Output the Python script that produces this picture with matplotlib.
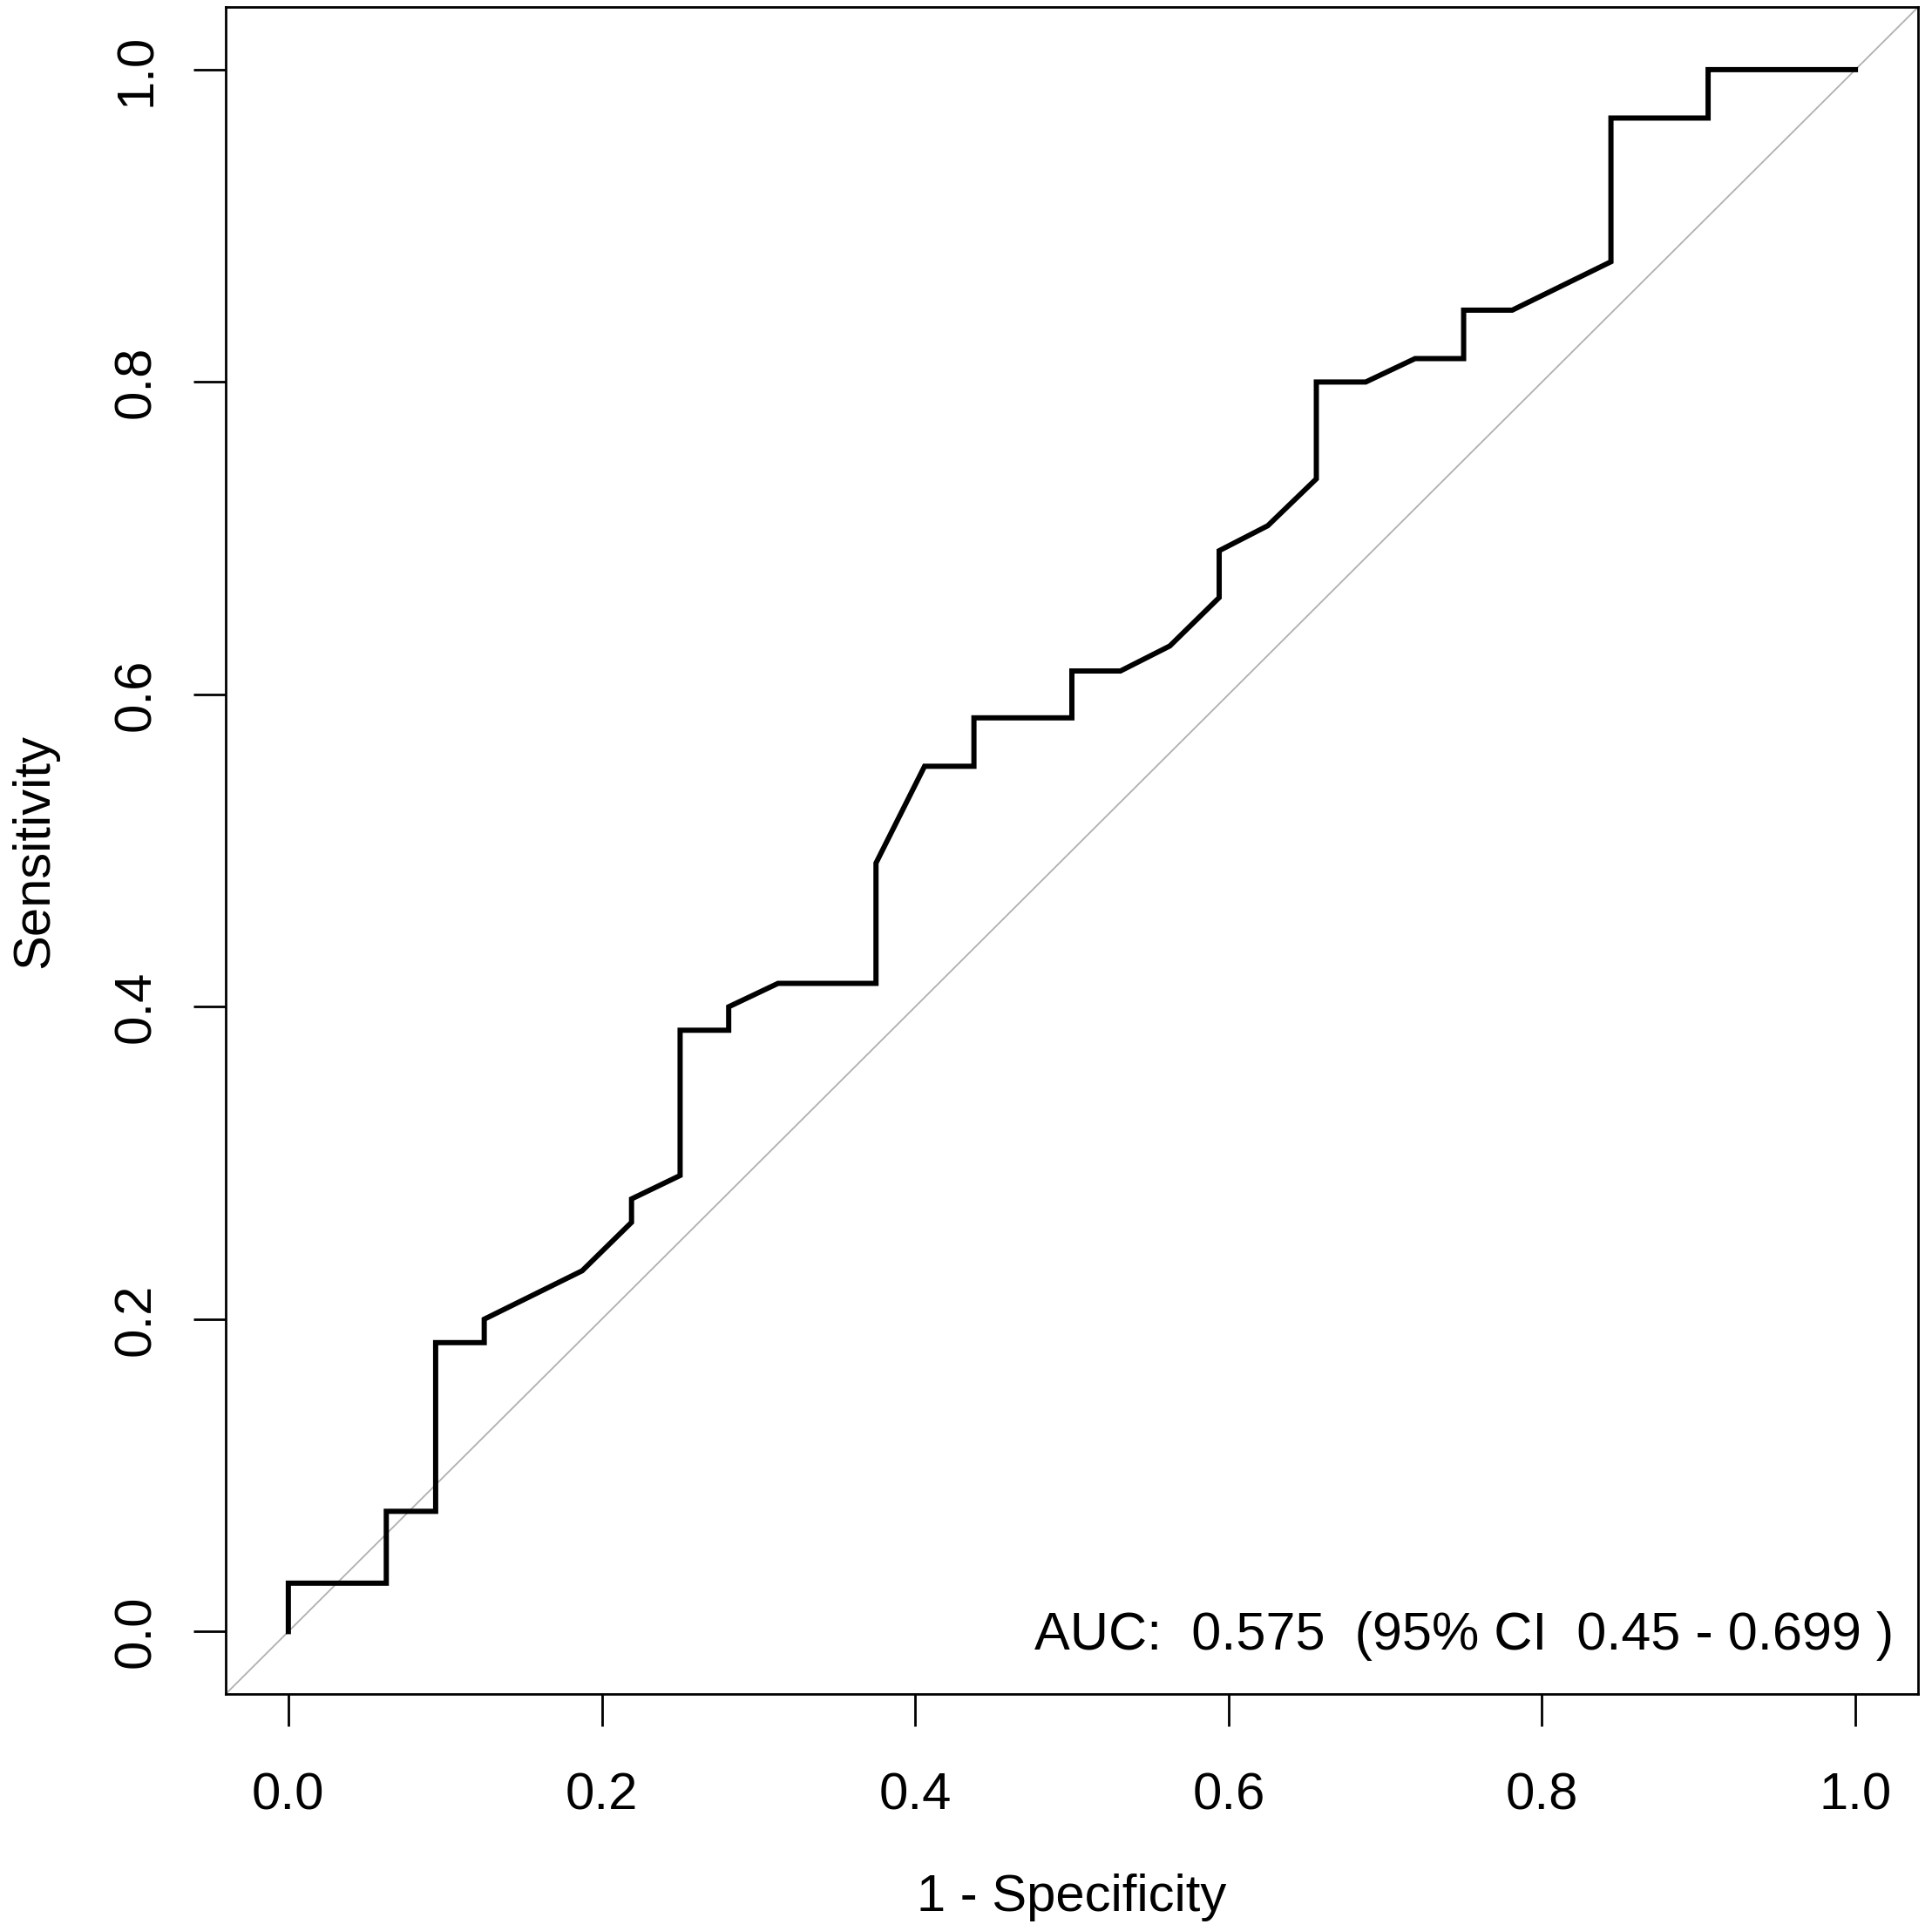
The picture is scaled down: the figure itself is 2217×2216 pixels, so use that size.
import matplotlib.pyplot as plt

plt.rcParams['font.family'] = ['Liberation Sans', 'DejaVu Sans']

# ROC curve points (1 - specificity, sensitivity)
fpr = [0.0, 0.0, 0.0625, 0.0625, 0.094, 0.094, 0.125, 0.125, 0.1875, 0.219,
       0.219, 0.25, 0.25, 0.281, 0.281, 0.3125, 0.375, 0.375, 0.406, 0.4375,
       0.4375, 0.5, 0.5, 0.531, 0.5625, 0.594, 0.594, 0.625, 0.656, 0.656,
       0.6875, 0.719, 0.75, 0.75, 0.781, 0.844, 0.844, 0.906, 0.906, 1.0]
tpr = [0.0, 0.031, 0.031, 0.077, 0.077, 0.185, 0.185, 0.2, 0.231, 0.262,
       0.277, 0.292, 0.385, 0.385, 0.4, 0.415, 0.415, 0.492, 0.554, 0.554,
       0.585, 0.585, 0.615, 0.615, 0.631, 0.662, 0.692, 0.708, 0.738, 0.8,
       0.8, 0.815, 0.815, 0.846, 0.846, 0.877, 0.969, 0.969, 1.0, 1.0]

ticks = [0.0, 0.2, 0.4, 0.6, 0.8, 1.0]
auc_label = 'AUC:  0.575  (95% CI  0.45 - 0.699 )'

fig = plt.figure(figsize=(22.17, 22.16), dpi=100)
ax = fig.add_axes([0.1168, 0.1227, 0.876, 0.8736])

# chance line across the whole box
ax.plot([-0.04, 1.04], [-0.04, 1.04], color='#b0b0b0', lw=1.3)
ax.plot(fpr, tpr, color='black', lw=4.3, solid_joinstyle='miter')

ax.set_xlim(-0.04, 1.04)
ax.set_ylim(-0.04, 1.04)
ax.set_xticks(ticks)
ax.set_yticks(ticks)
ax.set_xticklabels(['%.1f' % t for t in ticks])
ax.set_yticklabels(['%.1f' % t for t in ticks], rotation=90, va='center')
ax.tick_params(length=26.6, width=2, labelsize=43, colors='black')
ax.tick_params(axis='x', pad=38)
ax.tick_params(axis='y', pad=27)
for s in ax.spines.values():
    s.set_linewidth(2)

ax.text(1.0245, -0.0113, auc_label, ha='right', va='baseline', fontsize=44)

ax.set_xlabel('1 - Specificity', fontsize=43)
ax.xaxis.set_label_coords(0.5, -0.1286)
ax.xaxis.label.set_va('baseline')
ax.set_ylabel('Sensitivity', fontsize=43)
ax.yaxis.set_label_coords(-0.105, 0.5)
ax.yaxis.label.set_va('baseline')

fig.savefig('out.png', dpi=100, facecolor='white')
